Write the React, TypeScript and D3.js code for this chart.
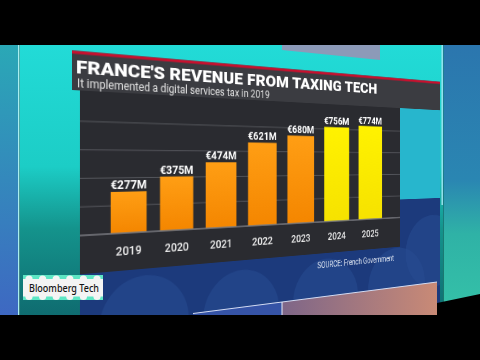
import React from 'react';
import * as d3 from 'd3';

// ---------- data ----------
const years = ['2019', '2020', '2021', '2022', '2023', '2024', '2025'];
const revenue = [277, 375, 474, 621, 680, 756, 774];
const projected = [false, false, false, false, false, true, true];
const gridValues = [185, 370, 555, 740];
const titleText = "FRANCE'S REVENUE FROM TAXING TECH";
const subtitleText = 'It implemented a digital services tax in 2019';
const sourceText = 'SOURCE: French Government';
const brandText = 'Bloomberg Tech';

// ---------- perspective of the studio screen ----------
const VX = 1380; // vanishing point x
const HY = 162; // horizon y
const X0 = 72; // left edge of the screen plane (unit scale)
const k = 1 / (VX - X0);
const H = [
  [1 + X0 * k, 0, -X0 * X0 * k],
  [HY * k, 1, -X0 * HY * k],
  [k, 0, 1 - X0 * k],
];
const m3d = `matrix3d(${H[0][0]},${H[1][0]},0,${H[2][0]},${H[0][1]},${H[1][1]},0,${H[2][1]},0,0,1,0,${H[0][2]},${H[1][2]},0,${H[2][2]})`;

const FONT = 'Roboto, "Liberation Sans", Arial, sans-serif';

export default function App() {
  const x = d3
    .scaleBand<string>()
    .domain(years)
    .range([80, 510])
    .paddingInner(0.28)
    .paddingOuter(0.585);
  const y = d3.scaleLinear().domain([0, 800]).range([236, 111.6]);
  const fmt = (v: number) => `€${d3.format('d')(v)}M`;

  const bubbles = [
    [150, 332],
    [268, 336],
    [388, 332],
    [505, 326],
    [570, 285],
  ];

  return (
    <div
      style={{
        position: 'fixed',
        left: 0,
        top: 0,
        width: 480,
        height: 360,
        overflow: 'hidden',
        background: '#000',
      }}
    >
      {/* flat studio background */}
      <svg
        width={480}
        height={360}
        style={{ position: 'absolute', left: 0, top: 0, display: 'block' }}
      >
        <defs>
          <linearGradient id="bgMain" x1="0" y1="45" x2="0" y2="315" gradientUnits="userSpaceOnUse">
            <stop offset="0" stopColor="#22dbd7" />
            <stop offset="0.45" stopColor="#1ccdc6" />
            <stop offset="0.68" stopColor="#14938c" />
            <stop offset="1" stopColor="#0f6c70" />
          </linearGradient>
          <linearGradient id="bgLeft" x1="0" y1="45" x2="0" y2="315" gradientUnits="userSpaceOnUse">
            <stop offset="0" stopColor="#2aa8b6" />
            <stop offset="1" stopColor="#3e68c2" />
          </linearGradient>
          <linearGradient id="bgRight" x1="0" y1="45" x2="0" y2="315" gradientUnits="userSpaceOnUse">
            <stop offset="0" stopColor="#2b76ae" />
            <stop offset="0.5" stopColor="#2a86b2" />
            <stop offset="0.7" stopColor="#2fb2a6" />
            <stop offset="1" stopColor="#35c2a8" />
          </linearGradient>
        </defs>
        <rect x={0} y={45} width={18} height={270} fill="url(#bgLeft)" />
        <rect x={18} y={45} width={1.6} height={270} fill="#a9eef0" />
        <rect x={19.6} y={45} width={424} height={270} fill="url(#bgMain)" />
        <rect x={443.6} y={45} width={36.4} height={270} fill="url(#bgRight)" />
        <rect x={441.5} y={45} width={1.4} height={160} fill="#9fe3f0" />
        <polygon points="282,45 380,45 380,60 282,50" fill="#8c9ab8" />
      </svg>

      {/* the screen plane, drawn flat then put in perspective */}
      <div
        style={{
          position: 'absolute',
          left: 0,
          top: 0,
          width: 620,
          height: 420,
          transformOrigin: '0 0',
          transform: m3d,
        }}
      >
        <svg width={620} height={420} style={{ display: 'block' }}>
          <defs>
            <linearGradient id="orange" x1="0" y1="0" x2="0" y2="1">
              <stop offset="0" stopColor="#ff9e14" />
              <stop offset="1" stopColor="#f48600" />
            </linearGradient>
            <linearGradient id="yellow" x1="0" y1="0" x2="0" y2="1">
              <stop offset="0" stopColor="#fff200" />
              <stop offset="1" stopColor="#f6e200" />
            </linearGradient>
            <clipPath id="plane">
              <rect x={72} y={40} width={512} height={380} />
            </clipPath>
          </defs>

          <g clipPath="url(#plane)">
            {/* navy lower region */}
            <rect x={80} y={212} width={504} height={208} fill="#1c3a7c" />
            {bubbles.map(([cx, cy], i) => (
              <circle key={i} cx={cx} cy={cy} r={50} fill="#284c92" opacity={0.55} />
            ))}
            {/* cyan block right of the chart */}
            <rect x={510} y={90} width={74} height={122} fill="#27b6cd" />
          </g>

          {/* title band */}
          <rect x={72} y={50.5} width={512} height={39.5} fill="#3b3c41" />
          <rect x={72} y={50.5} width={512} height={3} fill="#c8102e" />

          {/* chart area */}
          <rect x={80} y={90} width={430} height={185} fill="#2a2b30" />

          {gridValues.map((g) => (
            <line
              key={g}
              x1={80}
              x2={510}
              y1={y(g)}
              y2={y(g)}
              stroke="#56575d"
              strokeWidth={1}
            />
          ))}

          {years.map((yr, i) => (
            <rect
              key={yr}
              x={x(yr)}
              y={y(revenue[i])}
              width={x.bandwidth()}
              height={y(0) - y(revenue[i])}
              fill={projected[i] ? 'url(#yellow)' : 'url(#orange)'}
            />
          ))}

          <line x1={80} x2={510} y1={y(0)} y2={y(0)} stroke="#7a7b80" strokeWidth={1.6} />

          {years.map((yr, i) => (
            <text
              key={'v' + yr}
              x={(x(yr) as number) + x.bandwidth() / 2}
              y={y(revenue[i]) - 3}
              textAnchor="middle"
              fontFamily={FONT}
              fontWeight={700}
              fontSize={12.5}
              fill="#ffffff"
            >
              {fmt(revenue[i])}
            </text>
          ))}

          {years.map((yr) => (
            <text
              key={'x' + yr}
              x={(x(yr) as number) + x.bandwidth() / 2}
              y={259}
              textAnchor="middle"
              fontFamily={FONT}
              fontWeight={500}
              fontSize={12.5}
              fill="#ececec"
            >
              {yr}
            </text>
          ))}

          <text
            x={76}
            y={73.5}
            fontFamily={FONT}
            fontWeight={900}
            fontSize={19}
            fill="#ffffff"
            textLength={394}
            lengthAdjust="spacingAndGlyphs"
          >
            {titleText}
          </text>
          <text
            x={77}
            y={87.5}
            fontFamily={FONT}
            fontWeight={400}
            fontSize={12.5}
            fill="#e2e2e2"
            textLength={228}
            lengthAdjust="spacingAndGlyphs"
          >
            {subtitleText}
          </text>
          <text
            x={374}
            y={293}
            fontFamily={FONT}
            fontWeight={400}
            fontSize={10.5}
            fill="#dfe6f2"
            textLength={125}
            lengthAdjust="spacingAndGlyphs"
          >
            {sourceText}
          </text>
        </svg>
      </div>

      {/* foreground: floor photo strip, brand badge, letterbox */}
      <svg
        width={480}
        height={360}
        style={{ position: 'absolute', left: 0, top: 0, display: 'block' }}
      >
        <defs>
          <linearGradient id="photo" x1="282" y1="0" x2="437" y2="0" gradientUnits="userSpaceOnUse">
            <stop offset="0" stopColor="#7e6688" />
            <stop offset="1" stopColor="#c98a76" />
          </linearGradient>
        </defs>
        <polygon points="193,313.5 282,302 282,315 193,315" fill="#3553a6" />
        <polygon points="282,302 437,282 437,315 282,315" fill="url(#photo)" />
        <line x1={193} y1={313.5} x2={437} y2={282} stroke="#d3dbf2" strokeWidth={1} />
        <line x1={282} y1={302} x2={282} y2={315} stroke="#e8ecf8" strokeWidth={1} />

        <rect x={23} y={275} width={80} height={25} fill="#5de6c4" />
        <rect x={23} y={279} width={80} height={17.5} fill="#f4f4f4" />
        {d3.range(6).map((i) => (
          <g key={i}>
            <circle cx={29 + i * 13.6} cy={279} r={3.6} fill="#f4f4f4" />
            <circle cx={29 + i * 13.6} cy={296.5} r={3.6} fill="#f4f4f4" />
          </g>
        ))}
        <text
          x={29}
          y={291.5}
          fontFamily='"Noto Sans", Inter, sans-serif'
          fontWeight={500}
          fontSize={11}
          fill="#141414"
          textLength={70}
          lengthAdjust="spacingAndGlyphs"
        >
          {brandText}
        </text>

        <rect x={0} y={0} width={480} height={45} fill="#000" />
        <rect x={0} y={315} width={480} height={45} fill="#000" />
        <polygon points="437,315 437,303 480,294 480,315" fill="#000" />
      </svg>
    </div>
  );
}
